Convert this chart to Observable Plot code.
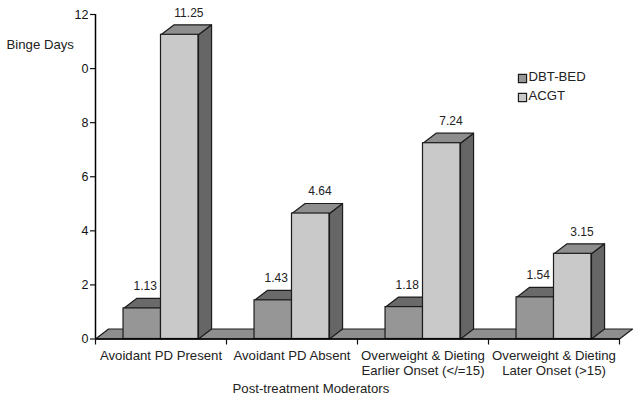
<!DOCTYPE html>
<html>
<head>
<meta charset="utf-8">
<script src="https://cdn.jsdelivr.net/npm/d3@7"></script>
<script src="https://cdn.jsdelivr.net/npm/@observablehq/plot@0.6"></script>
<style>
html,body{margin:0;padding:0;background:#fff;}
svg{display:block;}
</style>
</head>
<body>
<div id="chart"></div>
<script>
const categories = ["Avoidant PD Present", "Avoidant PD Absent", "Overweight & Dieting\nEarlier Onset (</=15)", "Overweight & Dieting\nLater Onset (>15)"];
const dbtBed = [1.13, 1.43, 1.18, 1.54];
const acgt = [11.25, 4.64, 7.24, 3.15];
const yTicks = [0, 2, 4, 6, 8, 10, 12];
const yTickLabels = ["0", "2", "4", "6", "8", "0", "12"];
const xBreaks = [0, 1, 2, 3, 4];
const seriesNames = ["DBT-BED", "ACGT"];

const FRONT = ["#969696", "#c9c9c9"];
const TOP = ["#6a6a6a", "#8e8e8e"];
const SIDE = "#666666";
const EDGE = "#1c1c1c";
const TEXT = "#222222";
const FONT = "Liberation Sans, Arial, sans-serif";
const barW = 0.286, depthX = 0.1, depthY = 0.37;

const bars = [];
categories.forEach((c, i) => {
  bars.push({s: 0, x1: i + 0.5 - barW, x2: i + 0.5, v: dbtBed[i]});
  bars.push({s: 1, x1: i + 0.5, x2: i + 0.5 + barW, v: acgt[i]});
});

const polys = [];
const poly = (id, fill, pts) => pts.forEach(([x, y]) => polys.push({id, fill, x, y}));
poly("floor", "#8e8e8e", [[0, 0], [depthX, depthY], [4 + depthX, depthY], [4, 0]]);
bars.forEach((b, k) => {
  poly("side" + k, SIDE, [[b.x2, 0], [b.x2 + depthX, depthY], [b.x2 + depthX, b.v + depthY], [b.x2, b.v]]);
  poly("top" + k, TOP[b.s], [[b.x1, b.v], [b.x1 + depthX, b.v + depthY], [b.x2 + depthX, b.v + depthY], [b.x2, b.v]]);
});

const tf = {fontFamily: FONT, fontSize: 12, fill: TEXT};
const tl = {fontFamily: FONT, fontSize: 13.2, fill: TEXT};
const chart = Plot.plot({
  width: 640, height: 402,
  marginLeft: 95, marginRight: 21, marginTop: 14, marginBottom: 63.5,
  x: {domain: [0, 4], axis: null},
  y: {domain: [0, 12], axis: null},
  style: {fontFamily: FONT, background: "#fff", overflow: "visible", color: "#111"},
  marks: [
    Plot.line(polys, {x: "x", y: "y", z: "id", curve: "linear-closed", fill: "fill", stroke: EDGE, strokeWidth: 1.2}),
    Plot.rect(bars, {x1: "x1", x2: "x2", y1: () => 0, y2: "v", fill: d => FRONT[d.s], stroke: EDGE, strokeWidth: 1.2}),
    Plot.ruleX([0], {stroke: "#000", strokeWidth: 1.5}),
    Plot.ruleY([0], {stroke: "#000", strokeWidth: 1.5}),
    Plot.axisY(yTicks, {anchor: "left", tickSize: 5, tickPadding: 2, tickFormat: d => yTickLabels[d / 2], strokeWidth: 1.2, fontFamily: FONT, fontSize: 12.5, label: null}),
    Plot.axisX(xBreaks, {anchor: "bottom", tickSize: 6, tickFormat: () => "", strokeWidth: 1.2, label: null}),
    Plot.text(categories, {x: (d, i) => i + 0.5, y: () => 0, dy: 10, lineAnchor: "top", lineHeight: 1.14, text: d => d, ...tl}),
    Plot.text(bars, {x: d => (d.x1 + d.x2) / 2 + (d.s ? 0.07 : 0.023), y: d => d.v + depthY, dy: -12, text: d => d.v.toFixed(2), ...tf}),
    Plot.text(["Binge Days"], {frameAnchor: "top-left", dx: -89, dy: 25, ...tl}),
    Plot.text(["Post-treatment Moderators"], {frameAnchor: "top-left", dx: 137, dy: 369, ...tl}),
    Plot.dot(seriesNames.slice(0, 1), {frameAnchor: "top-left", dx: 427, dy: 64, symbol: "square", r: 4.6, fill: FRONT[0], stroke: EDGE, strokeWidth: 1.2}),
    Plot.dot(seriesNames.slice(1), {frameAnchor: "top-left", dx: 427, dy: 83, symbol: "square", r: 4.6, fill: FRONT[1], stroke: EDGE, strokeWidth: 1.2}),
    Plot.text(seriesNames.slice(0, 1), {frameAnchor: "top-left", dx: 433, dy: 57, ...tl}),
    Plot.text(seriesNames.slice(1), {frameAnchor: "top-left", dx: 433, dy: 76, ...tl})
  ]
});
document.getElementById("chart").append(chart);
</script>
</body>
</html>
